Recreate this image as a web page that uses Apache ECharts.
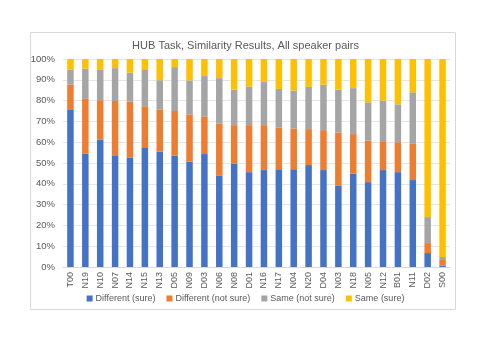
<!DOCTYPE html>
<html>
<head>
<meta charset="utf-8">
<script src="https://cdn.jsdelivr.net/npm/echarts@6/dist/echarts.min.js"></script>
<style>
  html, body { margin: 0; padding: 0; background: #fff; }
  #chart { width: 491px; height: 347px; }
</style>
</head>
<body>
<div id="chart"></div>
<script>
var speakers = ['T00', 'N19', 'N10', 'N07', 'N14', 'N15', 'N13', 'D05', 'N09', 'D03', 'N06', 'N08', 'D01',
  'N16', 'N17', 'N04', 'N20', 'D04', 'N03', 'N18', 'N05', 'N12', 'B01', 'N11', 'D02', 'S00'];

// percentages
var diffSure = [75.5, 54.6, 61.3, 53.7, 52.7, 57.2, 55.5, 53.6, 50.7, 54.3, 43.8, 49.6, 45.6,
  46.6, 47.0, 47.0, 49.0, 46.6, 39.0, 44.8, 40.8, 46.6, 45.6, 41.8, 6.7, 0.6];
var diffNotSure = [12.1, 26.5, 18.9, 26.1, 26.8, 20.1, 20.3, 21.4, 22.7, 18.1, 25.2, 18.6, 22.6,
  21.6, 20.1, 19.6, 17.3, 19.2, 25.7, 19.1, 20.0, 13.9, 14.4, 17.4, 4.8, 2.8];
var sameNotSure = [7.2, 14.2, 14.6, 15.8, 13.9, 17.4, 14.0, 21.1, 16.3, 19.4, 21.8, 17.1, 18.6,
  20.7, 18.5, 18.2, 20.3, 21.8, 20.6, 22.1, 18.4, 19.5, 18.2, 24.8, 12.5, 1.4];
var sameSure = [5.2, 4.7, 5.2, 4.4, 6.6, 5.3, 10.2, 3.9, 10.3, 8.2, 9.2, 14.7, 13.2,
  11.1, 14.4, 15.2, 13.4, 12.4, 14.7, 14.0, 20.8, 20.0, 21.8, 16.0, 76.0, 95.2];

var seriesNames = ['Different (sure)', 'Different (not sure)', 'Same (not sure)', 'Same (sure)'];
var seriesColors = ['#4472C4', '#ED7D31', '#A5A5A5', '#FFC000'];
var seriesData = [diffSure, diffNotSure, sameNotSure, sameSure];

var chart = echarts.init(document.getElementById('chart'));
var font = 'Liberation Sans, Arial, sans-serif';

var option = {
  backgroundColor: '#fff',
  animation: false,
  title: {
    text: 'HUB Task, Similarity Results, All speaker pairs',
    left: 'center',
    top: 35,
    textStyle: { color: '#595959', fontSize: 11, fontWeight: 'normal', fontFamily: font }
  },
  graphic: [{
    type: 'rect',
    shape: { x: 30.5, y: 32.5, width: 425, height: 277 },
    style: { fill: 'none', stroke: '#d9d9d9', lineWidth: 1 },
    silent: true
  }],
  legend: {
    bottom: 39,
    left: 'center',
    itemWidth: 6,
    itemHeight: 6,
    itemGap: 11,
    icon: 'rect',
    textStyle: { color: '#595959', fontSize: 9, fontFamily: font, padding: [0, 0, 0, -2] },
    data: seriesNames
  },
  grid: { left: 63, right: 41, top: 59, bottom: 80 },
  xAxis: {
    type: 'category',
    data: speakers,
    axisTick: { show: false },
    axisLine: { lineStyle: { color: '#d9d9d9' } },
    axisLabel: { rotate: 90, color: '#595959', fontSize: 9, fontFamily: font, margin: 5 }
  },
  yAxis: {
    type: 'value',
    min: 0,
    max: 100,
    interval: 10,
    axisLine: { show: false },
    axisTick: { show: false },
    splitLine: { lineStyle: { color: '#e6e6e6' } },
    axisLabel: { formatter: '{value}%', color: '#595959', fontSize: 9.5, fontFamily: font, margin: 8 }
  },
  series: seriesNames.map(function (name, i) {
    return {
      name: name,
      type: 'bar',
      stack: 'total',
      barWidth: 6.5,
      itemStyle: { color: seriesColors[i] },
      data: seriesData[i]
    };
  })
};
chart.setOption(option);
</script>
</body>
</html>
